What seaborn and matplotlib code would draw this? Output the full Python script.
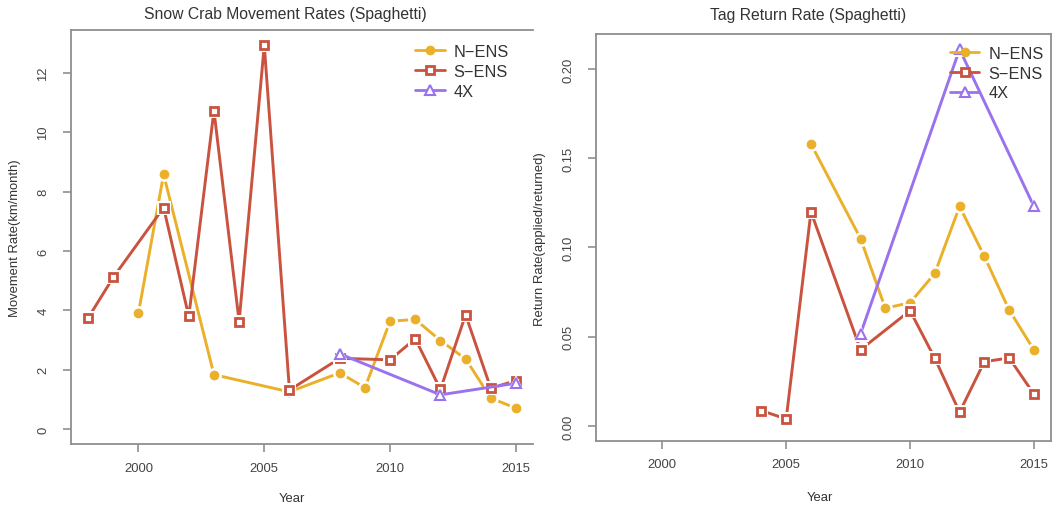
import numpy as np
import pandas as pd
import matplotlib
matplotlib.use("Agg")
import matplotlib.pyplot as plt
from matplotlib.lines import Line2D
import seaborn as sns

# ---- data: movement rates (km/month) ----
move_n_years = [2000, 2001, 2003, 2006, 2008, 2009, 2010, 2011, 2012, 2013, 2014, 2015]
move_n_vals = [3.91, 8.58, 1.83, 1.25, 1.89, 1.39, 3.63, 3.69, 2.98, 2.36, 1.04, 0.70]

move_s_years = [1998, 1999, 2001, 2002, 2003, 2004, 2005, 2006, 2008, 2010, 2011, 2012, 2013, 2014, 2015]
move_s_vals = [3.74, 5.11, 7.46, 3.79, 10.73, 3.62, 12.93, 1.31, 2.38, 2.33, 3.04, 1.33, 3.85, 1.37, 1.63]

move_4x_years = [2008, 2012, 2015]
move_4x_vals = [2.53, 1.15, 1.54]

# ---- data: tag return rates ----
ret_n_years = [2006, 2008, 2009, 2010, 2011, 2012, 2013, 2014, 2015]
ret_n_vals = [0.158, 0.105, 0.066, 0.069, 0.0855, 0.123, 0.095, 0.065, 0.0426]

ret_s_years = [2004, 2005, 2006, 2008, 2010, 2011, 2012, 2013, 2014, 2015]
ret_s_vals = [0.0086, 0.0039, 0.120, 0.0427, 0.0646, 0.0379, 0.0077, 0.036, 0.0381, 0.0179]

ret_4x_years = [2008, 2012, 2015]
ret_4x_vals = [0.0515, 0.211, 0.123]

series_names = ["N\u2212ENS", "S\u2212ENS", "4X"]
x_ticks = [2000, 2005, 2010, 2015]

GOLD = "#EBB02A"
RED = "#C9533E"
PURPLE = "#9B72EE"
SPINE = "#8f8f8f"
TEXT = "#333333"

sns.set_theme(style="white")
plt.rcParams["font.family"] = ["Liberation Sans", "DejaVu Sans"]

styles = [
    dict(color=GOLD, marker="o", mfc=GOLD, ms=6.2, mew=0.8),
    dict(color=RED, marker="s", mfc="white", ms=6.0, mew=2.0),
    dict(color=PURPLE, marker="^", mfc="white", ms=7.0, mew=1.5),
]


def draw_series(ax, years, vals, st, z):
    df = pd.DataFrame({"year": years, "value": vals})
    sns.lineplot(data=df, x="year", y="value", color=st["color"], lw=2.1,
                 ax=ax, zorder=z, legend=False)
    # white halo leaves a small gap between the line and each point
    ax.plot(df["year"], df["value"], ls="none", marker=st["marker"],
            ms=st["ms"] + 4.5, mfc="white", mec="white", mew=0, zorder=z + 0.1)
    ax.plot(df["year"], df["value"], ls="none", marker=st["marker"],
            ms=st["ms"], mfc=st["mfc"], mec=st["color"], mew=st["mew"],
            zorder=z + 0.2)


def style_axes(ax, ylim, yticks, ylabels, right_spine):
    ax.set_xlim(1997.32, 2015.68)
    ax.set_ylim(*ylim)
    ax.set_xticks(x_ticks)
    ax.set_xticklabels([str(t) for t in x_ticks])
    ax.set_yticks(yticks)
    ax.set_yticklabels(ylabels, rotation=90, va="center")
    for side in ["left", "bottom", "top", "right"]:
        ax.spines[side].set_color(SPINE)
        ax.spines[side].set_linewidth(1.3)
    ax.spines["right"].set_visible(right_spine)
    ax.tick_params(axis="both", which="major", direction="out", length=6, width=1.2,
                   color=SPINE, labelcolor="#444444", labelsize=9.4,
                   bottom=True, left=True, top=False, right=False)
    ax.tick_params(axis="x", pad=6.5)
    ax.tick_params(axis="y", pad=9.5)
    ax.grid(False)
    ax.set_xlabel("")
    ax.set_ylabel("")


def add_legend(ax, x, y):
    handles = [
        Line2D([0], [0], color=st["color"], lw=2.0, marker=st["marker"],
               ms=st["ms"], mfc=st["mfc"], mec=st["color"], mew=st["mew"])
        for st in styles
    ]
    leg = ax.legend(handles, series_names, loc="upper left", bbox_to_anchor=(x, y),
                    frameon=False, fontsize=11.8, handlelength=1.8,
                    handletextpad=0.55, labelspacing=0.3, borderpad=0,
                    borderaxespad=0)
    for t in leg.get_texts():
        t.set_color(TEXT)
    leg.set_zorder(20)


fig = plt.figure(figsize=(10.52, 5.10), dpi=100)
fig.patch.set_facecolor("white")

ax1 = fig.add_axes([0.0675, 0.1269, 0.4392, 0.8124])
ax2 = fig.add_axes([0.5665, 0.1333, 0.4323, 0.7976])

# left panel: movement rates
draw_series(ax1, move_n_years, move_n_vals, styles[0], 3)
draw_series(ax1, move_s_years, move_s_vals, styles[1], 4)
draw_series(ax1, move_4x_years, move_4x_vals, styles[2], 5)
top1 = max(move_s_vals)
style_axes(ax1, (-0.04 * top1, 1.04 * top1), [0, 2, 4, 6, 8, 10, 12],
           ["0", "2", "4", "6", "8", "10", "12"], right_spine=False)
ax1.text(0.463, 1.0386, "Snow Crab Movement Rates (Spaghetti)", transform=ax1.transAxes,
         ha="center", va="center", fontsize=11.3, color=TEXT)
ax1.text(0.479, -0.130, "Year", transform=ax1.transAxes, ha="center", va="center",
         fontsize=9.4, color=TEXT)
ax1.text(-0.121, 0.499, "Movement Rate(km/month)", transform=ax1.transAxes,
         ha="center", va="center", rotation=90, fontsize=9.4, color=TEXT)
add_legend(ax1, 0.7446, 0.966)

# right panel: tag return rates
draw_series(ax2, ret_n_years, ret_n_vals, styles[0], 3)
draw_series(ax2, ret_s_years, ret_s_vals, styles[1], 4)
draw_series(ax2, ret_4x_years, ret_4x_vals, styles[2], 5)
top2 = max(ret_4x_vals)
style_axes(ax2, (-0.04 * top2, 1.04 * top2), [0.0, 0.05, 0.10, 0.15, 0.20],
           ["0.00", "0.05", "0.10", "0.15", "0.20"], right_spine=True)
ax2.text(0.467, 1.0497, "Tag Return Rate (Spaghetti)", transform=ax2.transAxes,
         ha="center", va="center", fontsize=11.3, color=TEXT)
ax2.text(0.4925, -0.138, "Year", transform=ax2.transAxes, ha="center", va="center",
         fontsize=9.4, color=TEXT)
ax2.text(-0.123, 0.499, "Return Rate(applied/returned)", transform=ax2.transAxes,
         ha="center", va="center", rotation=90, fontsize=9.4, color=TEXT)
add_legend(ax2, 0.7784, 0.972)

fig.savefig("out.png", dpi=100, facecolor="white")
